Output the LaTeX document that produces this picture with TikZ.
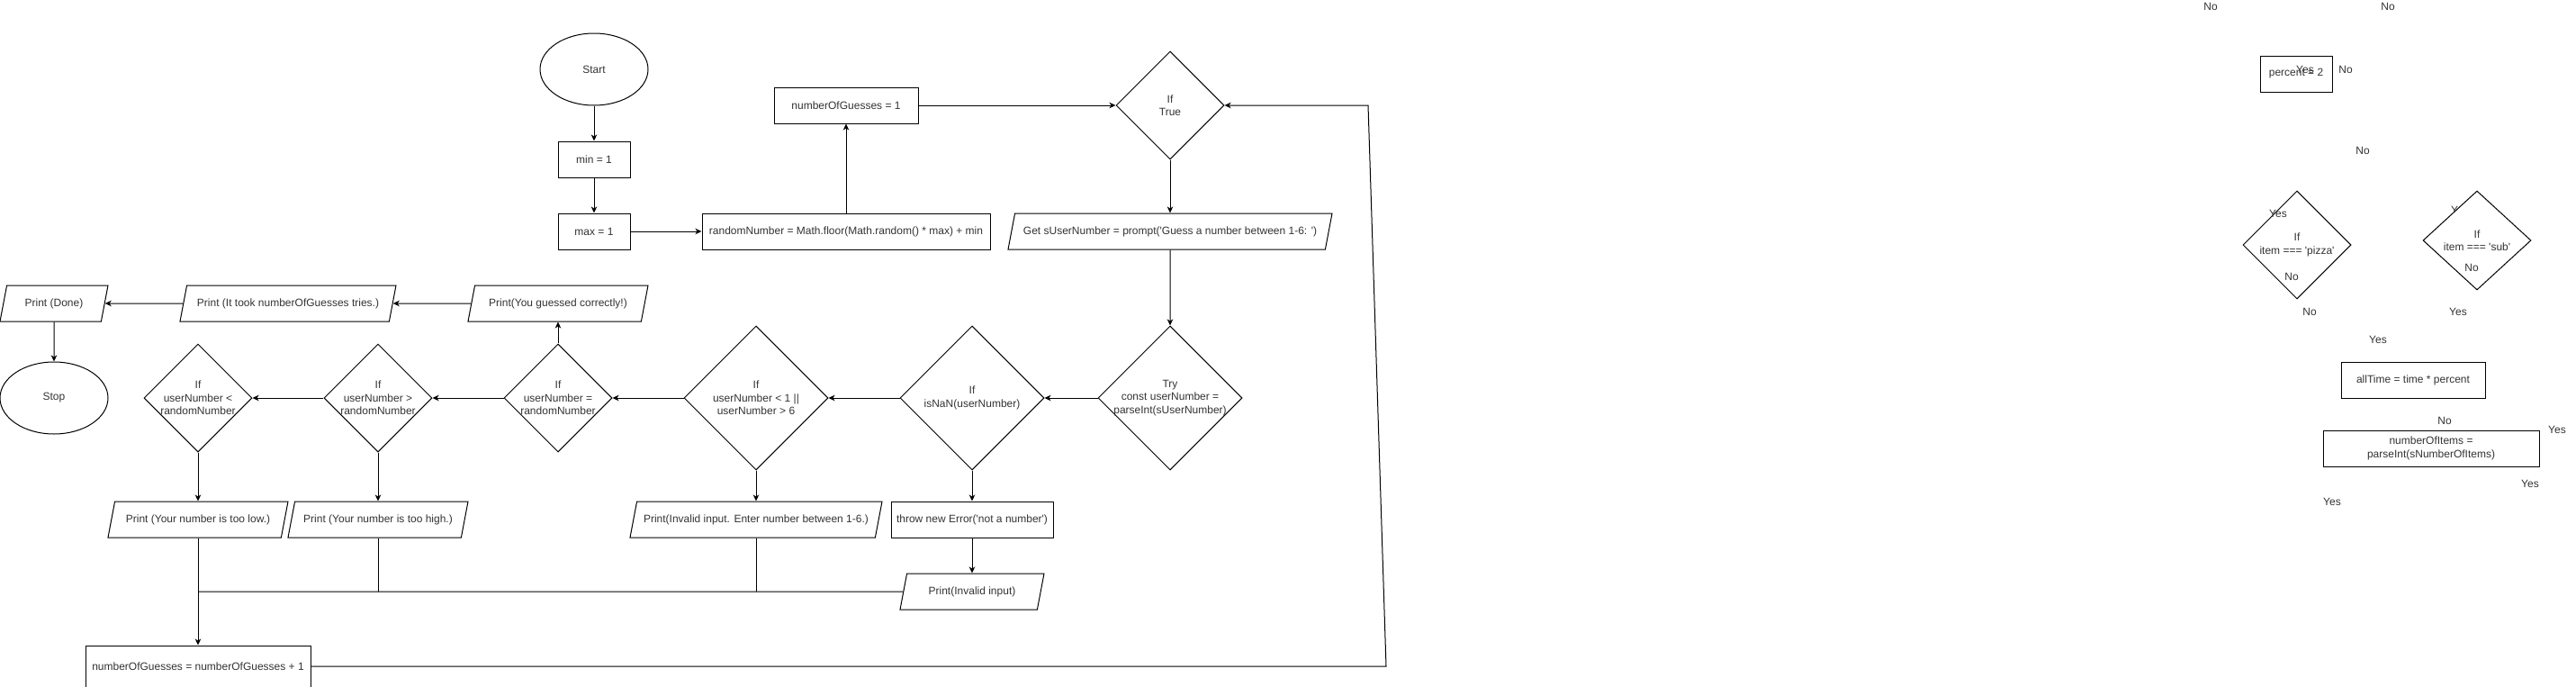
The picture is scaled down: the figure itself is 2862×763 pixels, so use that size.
\documentclass[tikz,border=0pt]{standalone}
\usepackage{fontspec}
\setmainfont{Liberation Sans}[Ligatures=TeXOff]
\usepackage{tikz}
\usetikzlibrary{arrows.meta, shapes.geometric}

\begin{document}
\begin{tikzpicture}[x=1pt, y=-1pt, line width=1pt,
  font=\fontsize{12pt}{14.4pt}\selectfont, text=black!80,
  term/.style={draw, ellipse, minimum width=120pt, minimum height=80pt},
  proc/.style={draw, rectangle, minimum height=40pt, align=center},
  io/.style={draw, trapezium, trapezium left angle=63.4, trapezium right angle=116.6,
    trapezium stretches body, minimum height=40pt, inner sep=2pt},
  decision/.style={draw, diamond, inner sep=0pt, minimum width=#1, minimum height=#1},
  decision/.default=120pt,
  dtext/.style={align=center},
  flow/.style={-{Stealth[length=7pt, width=6.5pt, inset=2pt]}},
  lbl/.style={inner sep=0pt}]
  \useasboundingbox (0,0) rectangle (2862,763);

  % Setup
  \node[term] (start) at (660,77) {Start};
  \node[proc, minimum width=80pt] (min) at (660,177) {min = 1};
  \node[proc, minimum width=80pt] (max) at (660,257) {max = 1};
  \node[proc, minimum width=320pt] (rand) at (940,257) {randomNumber = Math.floor(Math.random() * max) + min};
  \node[proc, minimum width=160pt] (guess1) at (940,117) {numberOfGuesses = 1};
  \node[decision, label={[dtext]center:{If\\True}}] (iftrue) at (1300,117) {};
  \node[io, minimum width=360pt] (getnum) at (1300,257) {Get sUserNumber = prompt('Guess a number between 1-6: ')};

  % Checks
  \node[decision=160pt, label={[dtext]center:{Try\\const userNumber =\\parseInt(sUserNumber)}}] (try) at (1300,442) {};
  \node[decision=160pt, label={[dtext]center:{If\\isNaN(userNumber)}}] (isnan) at (1080,442) {};
  \node[decision=160pt, label={[dtext]center:{If\\userNumber < 1 ||\\userNumber > 6}}] (range) at (840,442) {};
  \node[decision, label={[dtext]center:{If\\userNumber =\\randomNumber}}] (eq) at (620,442) {};
  \node[decision, label={[dtext]center:{If\\userNumber >\\randomNumber}}] (gt) at (420,442) {};
  \node[decision, label={[dtext]center:{If\\userNumber <\\randomNumber}}] (lt) at (220,442) {};

  % Outputs
  \node[io, minimum width=200pt] (correct) at (620,337) {Print(You guessed correctly!)};
  \node[io, minimum width=240pt] (took) at (320,337) {Print (It took numberOfGuesses tries.)};
  \node[io, minimum width=120pt] (done) at (60,337) {Print (Done)};
  \node[term] (stop) at (60,442) {Stop};
  \node[io, minimum width=200pt] (low) at (220,577) {Print (Your number is too low.)};
  \node[io, minimum width=200pt] (high) at (420,577) {Print (Your number is too high.)};
  \node[io, minimum width=280pt] (rangemsg) at (840,577) {Print(Invalid input. Enter number between 1-6.)};
  \node[proc, minimum width=180pt] (throw) at (1080,577) {throw new Error('not a number')};
  \node[io, minimum width=160pt] (invalid) at (1080,657) {Print(Invalid input)};
  \node[proc, minimum width=250pt, minimum height=46pt] (inc) at (220,740) {numberOfGuesses = numberOfGuesses + 1};

  % Arrows
  \draw[flow] (start) -- (min);
  \draw[flow] (min) -- (max);
  \draw[flow] (max) -- (rand);
  \draw[flow] (rand) -- (guess1);
  \draw[flow] (guess1) -- (iftrue);
  \draw[flow] (iftrue) -- (getnum);
  \draw[flow] (getnum) -- (try);
  \draw[flow] (try) -- (isnan);
  \draw[flow] (isnan) -- (range);
  \draw[flow] (range) -- (eq);
  \draw[flow] (eq) -- (gt);
  \draw[flow] (gt) -- (lt);
  \draw[flow] (eq) -- (correct);
  \draw[flow] (correct) -- (took);
  \draw[flow] (took) -- (done);
  \draw[flow] (done) -- (stop);
  \draw[flow] (lt) -- (low);
  \draw[flow] (gt) -- (high);
  \draw[flow] (range) -- (rangemsg);
  \draw[flow] (isnan) -- (throw);
  \draw[flow] (throw) -- (invalid);

  % Merge and loop back
  \coordinate (join) at (220,657);
  \draw (low) -- (join);
  \draw (high) -- (high |- join);
  \draw (rangemsg) -- (rangemsg |- join);
  \draw (invalid) -- (join);
  \draw[flow] (join) -- (inc);
  \coordinate (loopbot) at (1540,740);
  \coordinate (looptop) at (1520,117);
  \draw[flow] (inc) -- (loopbot) -- (looptop) -- (iftrue);

  % Leftover pieces on the right
  \node[proc, minimum width=80pt] (pct) at (2551,82) {percent = 2};
  \node[lbl] (subyes) at (2733,233) {Yes};
  \node[decision, fill=white, label={[dtext]center:{If\\item === 'pizza'}}] (pizza) at (2552,272) {};
  \node[decision, minimum height=110pt, fill=white, label={[dtext]center:{If\\item === 'sub'}}] (sub) at (2752,267) {};
  \node[proc, minimum width=160pt] (alltime) at (2681,422) {allTime = time * percent};
  \node[proc, minimum width=240pt] (items) at (2701,498) {numberOfItems =\\parseInt(sNumberOfItems)};
  \foreach \t/\x/\y [count=\i] in {No/2456/7, No/2653/7, Yes/2561/77, No/2606/77,
      No/2625/167, Yes/2531/237, No/2546/307, No/2746/297, No/2566/346, Yes/2731/346,
      Yes/2642/377, No/2716/467, Yes/2841/477, Yes/2811/537, Yes/2591/557}
    \node[lbl] (lbl\i) at (\x,\y) {\t};
\end{tikzpicture}
\end{document}
